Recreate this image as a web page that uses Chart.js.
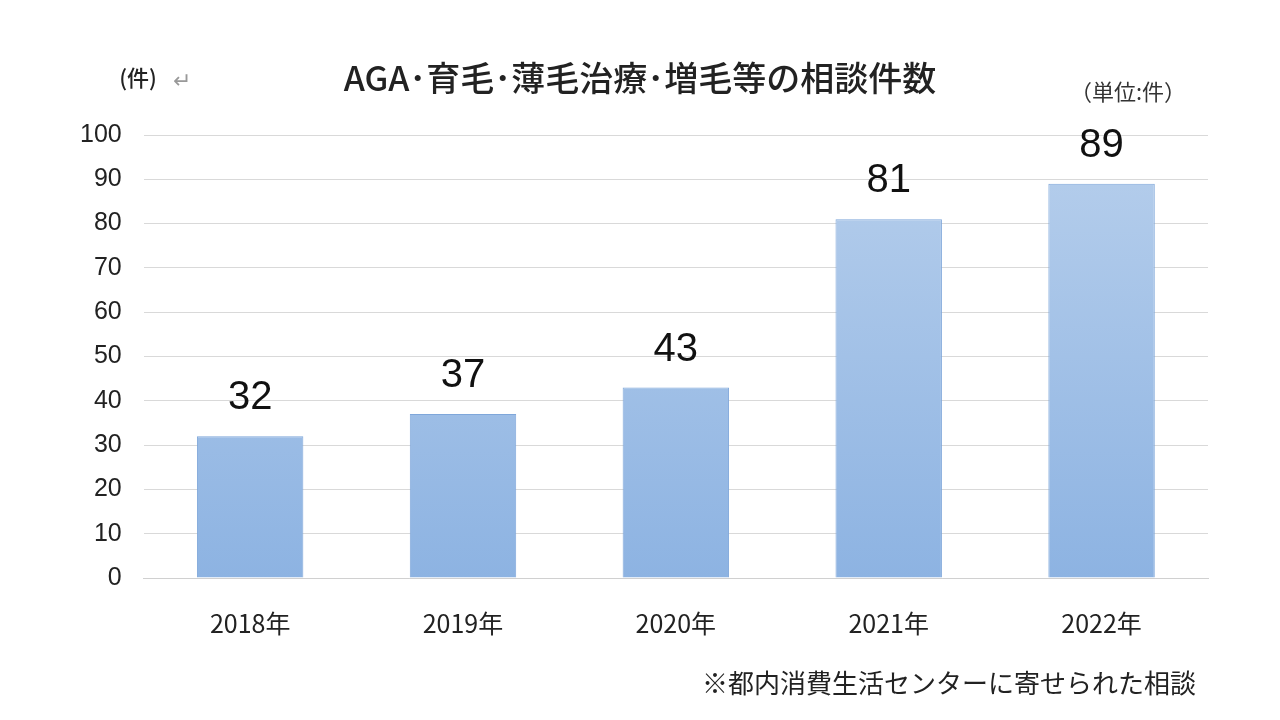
<!DOCTYPE html>
<html>
<head>
<meta charset="utf-8">
<script src="https://cdn.jsdelivr.net/npm/chart.js@4"></script>
<style>
  body { margin: 0; background: #fff; }
  canvas { display: block; }
</style>
</head>
<body>
<canvas id="myChart" width="1280" height="720"></canvas>
<script>
// datos del grafico
var years = ["2018年", "2019年", "2020年", "2021年", "2022年"];
var counts = [32, 37, 43, 81, 89];
var yTicks = [0, 10, 20, 30, 40, 50, 60, 70, 80, 90, 100];

var fontJP = "'Noto Sans CJK JP', 'Noto Sans', sans-serif";

// textos fijos y etiquetas de valores
var textPlugin = {
  id: "textPlugin",
  afterDatasetsDraw(chart) {
    const c = chart.ctx;
    c.save();
    c.fillStyle = "#222";
    c.textBaseline = "middle";
    c.textAlign = "center";
    c.font = "500 34px " + fontJP;
    c.fillText("AGA･育毛･薄毛治療･増毛等の相談件数", 640, 78);
    c.font = "500 22px " + fontJP;
    c.fillText("(件)", 138, 78);
    c.fillStyle = "#999";
    c.fillText("↵", 182, 80);
    c.fillStyle = "#333";
    c.font = "22px " + fontJP;
    c.fillText("（単位:件）", 1128, 92);
    c.textAlign = "right";
    c.fillStyle = "#222";
    c.font = "26px " + fontJP;
    c.fillText("※都内消費生活センターに寄せられた相談", 1196, 683);
    // valores sobre las barras
    const meta = chart.getDatasetMeta(0);
    c.textAlign = "center";
    c.fillStyle = "#111";
    c.font = "40px 'Liberation Sans', Arial, sans-serif";
    meta.data.forEach((bar, i) => {
      c.fillText(counts[i], bar.x, bar.y - 38);
    });
    c.restore();
  }
};

var ctx = document.getElementById("myChart");
var myChart = new Chart(ctx, {
  type: "bar",
  data: {
    labels: years,
    datasets: [{
      data: counts,
      backgroundColor: (context) => {
        const area = context.chart.chartArea;
        if (!area) return "#a6c3e8";
        const g = context.chart.ctx.createLinearGradient(0, area.top, 0, area.bottom);
        g.addColorStop(0, "#b7cfec");
        g.addColorStop(1, "#8db3e2");
        return g;
      },
      borderColor: "#7fa7da",
      borderWidth: 1,
      categoryPercentage: 1,
      barPercentage: 0.5
    }]
  },
  options: {
    responsive: false,
    animation: false,
    layout: { padding: { left: 58, right: 72, top: 135, bottom: 52 } },
    plugins: { legend: { display: false }, tooltip: { enabled: false } },
    scales: {
      y: {
        min: 0, max: 100,
        afterBuildTicks: (axis) => { axis.ticks = yTicks.map(v => ({ value: v })); },
        ticks: { color: "#222", font: { size: 25, family: "'Liberation Sans', Arial" }, padding: 22 },
        grid: { color: "#d9d9d9", drawTicks: false },
        border: { display: false }
      },
      x: {
        ticks: { color: "#222", font: { size: 25, family: fontJP }, padding: 30 },
        grid: { display: false, drawTicks: false },
        border: { color: "#d0d0d0" }
      }
    }
  },
  plugins: [textPlugin]
});
</script>
</body>
</html>
